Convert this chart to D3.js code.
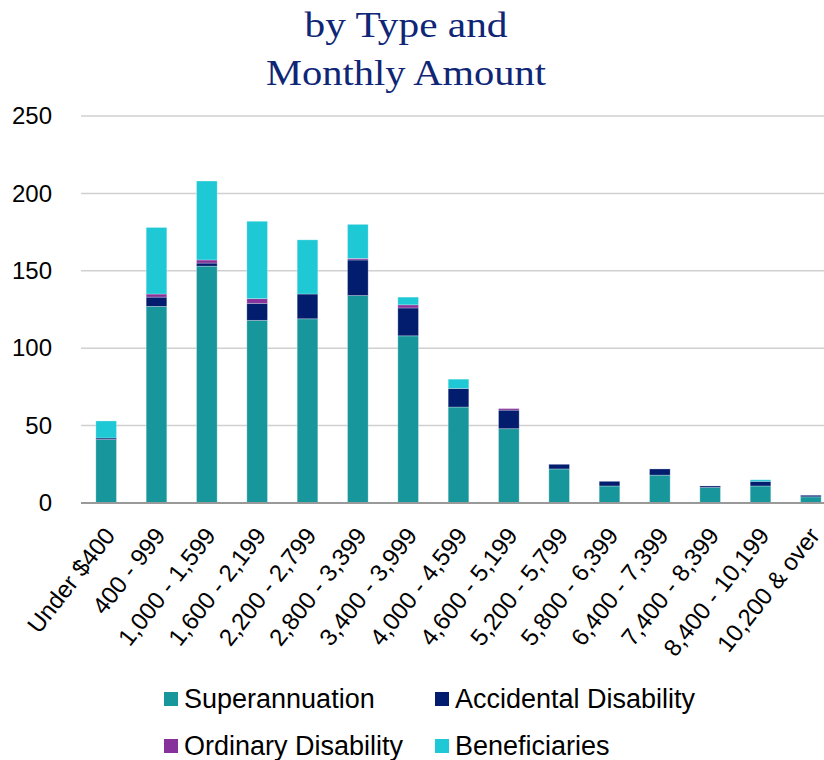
<!DOCTYPE html>
<html>
<head>
<meta charset="utf-8">
<script src="https://cdn.jsdelivr.net/npm/d3@7"></script>
<style>
  body { margin: 0; background: #fff; }
  svg { display: block; }
</style>
</head>
<body>
<svg id="chart" width="824" height="760"></svg>
<script>
// data
var categories = ["Under $400", "400 - 999", "1,000 - 1,599", "1,600 - 2,199", "2,200 - 2,799",
    "2,800 - 3,399", "3,400 - 3,999", "4,000 - 4,599", "4,600 - 5,199", "5,200 - 5,799",
    "5,800 - 6,399", "6,400 - 7,399", "7,400 - 8,399", "8,400 - 10,199", "10,200 & over"];
var superannuation = [41, 127, 153, 118, 119, 134, 108, 62, 48, 22, 11, 18, 10, 11, 4];
var accidental = [1, 6, 2, 11, 16, 23, 18, 12, 12, 3, 3, 4, 1, 3, 1];
var ordinary = [0, 2, 2, 3, 0, 1, 2, 0, 1, 0, 0, 0, 0, 0, 0];
var beneficiaries = [11, 43, 51, 50, 35, 22, 5, 6, 0, 0, 0, 0, 0, 1, 0];
var seriesNames = ["Superannuation", "Accidental Disability", "Ordinary Disability", "Beneficiaries"];
var seriesColors = ["#17979c", "#021d6e", "#87329a", "#1ec8d4"];
var yTicks = [0, 50, 100, 150, 200, 250];
var titleLines = ["by Type and", "Monthly Amount"];
var titleWidths = [203, 280];

var rows = categories.map(function (c, i) {
    return {
        cat: c,
        "Superannuation": superannuation[i],
        "Accidental Disability": accidental[i],
        "Ordinary Disability": ordinary[i],
        "Beneficiaries": beneficiaries[i]
    };
});

var svg = d3.select("#chart");

var x = d3.scaleBand()
    .domain(categories)
    .range([81, 836])
    .paddingInner(0.59)
    .paddingOuter(0.295);

var y = d3.scaleLinear()
    .domain([0, 250])
    .range([503, 116]);

// title (serif, stretched a little to the width of the original face)
svg.selectAll("text.title")
    .data(titleLines)
    .enter()
    .append("text")
    .attr("class", "title")
    .attr("x", 406)
    .attr("y", function (d, i) { return 37 + i * 48; })
    .attr("text-anchor", "middle")
    .attr("textLength", function (d, i) { return titleWidths[i]; })
    .attr("lengthAdjust", "spacingAndGlyphs")
    .style("font-family", "'Liberation Serif', 'DejaVu Serif', serif")
    .style("font-size", "35px")
    .attr("fill", "#0f2676")
    .text(function (d) { return d; });

// gridlines
svg.append("g")
    .selectAll("line")
    .data(yTicks.slice(1))
    .enter()
    .append("line")
    .attr("x1", 81)
    .attr("x2", 824)
    .attr("y1", function (d) { return y(d); })
    .attr("y2", function (d) { return y(d); })
    .attr("stroke", "#d0d0d0")
    .attr("stroke-width", 1.5);

// y axis labels
var yAxis = d3.axisLeft(y).tickValues(yTicks).tickSize(0).tickPadding(0);
var yg = svg.append("g")
    .attr("transform", "translate(52,0)")
    .call(yAxis);
yg.select(".domain").remove();
yg.selectAll("text")
    .style("font-family", "'Liberation Sans', Arial, sans-serif")
    .style("font-size", "24px")
    .attr("fill", "#000");

// stacked bars
var stack = d3.stack().keys(seriesNames);
var stacked = stack(rows);

svg.append("g")
    .selectAll("g")
    .data(stacked)
    .enter()
    .append("g")
    .attr("fill", function (d, i) { return seriesColors[i]; })
    .selectAll("rect")
    .data(function (d) { return d; })
    .enter()
    .append("rect")
    .attr("x", function (d) { return x(d.data.cat); })
    .attr("width", x.bandwidth())
    .attr("y", function (d) { return y(d[1]); })
    .attr("height", function (d) { return y(d[0]) - y(d[1]); })
    .attr("stroke", "rgba(255,255,255,0.35)")
    .attr("stroke-width", 0.8);

// x axis labels, rotated
var xAxis = d3.axisBottom(x).tickSize(0).tickPadding(0);
var xg = svg.append("g")
    .attr("transform", "translate(0,503)")
    .call(xAxis);
xg.select(".domain").remove();
xg.selectAll("text")
    .style("font-family", "'Liberation Sans', Arial, sans-serif")
    .style("font-size", "24px")
    .attr("fill", "#000")
    .attr("text-anchor", "end")
    .attr("y", 0)
    .attr("dy", 0)
    .attr("transform", "translate(10,33) rotate(-52)");

svg.append("line")
    .attr("x1", 81)
    .attr("x2", 824)
    .attr("y1", y(0))
    .attr("y2", y(0))
    .attr("stroke", "#999")
    .attr("stroke-width", 2);

// legend
var legend = svg.append("g")
    .selectAll("g")
    .data(seriesNames)
    .enter()
    .append("g")
    .attr("transform", function (d, i) {
        return "translate(" + (i % 2 === 0 ? 164 : 435) + "," + (i < 2 ? 699 : 746) + ")";
    });
legend.append("rect")
    .attr("x", 0)
    .attr("y", -7)
    .attr("width", 14)
    .attr("height", 14)
    .attr("fill", function (d, i) { return seriesColors[i]; });
legend.append("text")
    .attr("x", 20)
    .attr("y", 0)
    .attr("dy", "0.35em")
    .style("font-family", "'Liberation Sans', Arial, sans-serif")
    .style("font-size", "27px")
    .attr("fill", "#000")
    .text(function (d) { return d; });
</script>
</body>
</html>
